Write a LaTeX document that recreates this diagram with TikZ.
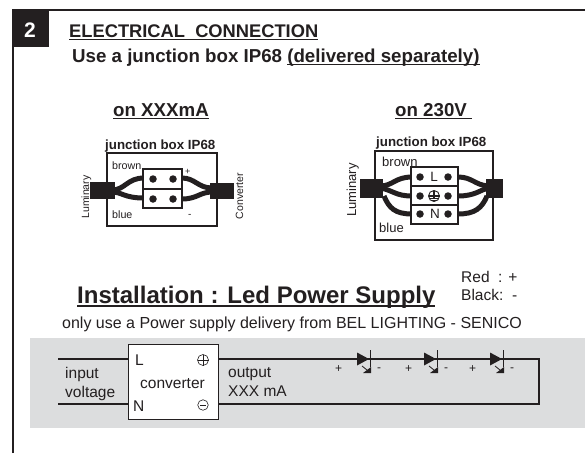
\documentclass[tikz,border=0pt]{standalone}
\usepackage{fontspec}
\setmainfont{Liberation Sans}
\usetikzlibrary{calc}
\newsavebox{\ulbox}
\newcommand{\ul}[1]{\leavevmode\sbox{\ulbox}{#1}\rlap{\usebox{\ulbox}}\rule[-0.17em]{\wd\ulbox}{0.08em}}
\definecolor{panel}{RGB}{220,221,222}
\definecolor{ink}{RGB}{35,31,32}
\tikzset{
 x=1pt,y=-1pt,
 lbl/.style={inner sep=0,anchor=base west,text=ink},
 cable/.style={ink,line width=5pt},
 wire/.style={ink,line width=1.6pt},
 box/.style={draw=ink,line width=1.3pt},
 tbox/.style={draw=ink,line width=1.2pt,fill=white},
 dot/.style={circle,fill=ink,inner sep=0,minimum size=7.5pt},
}
\newcommand{\fs}[1]{\fontsize{#1}{#1}\selectfont}
\newcommand{\ledat}[2]{%
 \fill[ink] (#1-13,#2-6.5) -- (#1-1,#2) -- (#1-13,#2+6.5) -- cycle;
 \draw[ink,line width=.8pt] (#1,#2-9) -- (#1,#2+8);
 \draw[ink,line width=.8pt] (#1-8,#2+7) -- (#1-3,#2+11);
 \fill[ink] (#1+1,#2+8) -- (#1+1,#2+14) -- (#1-7,#2+14) -- cycle;
}
\begin{document}
\begin{tikzpicture}
\useasboundingbox (0,0) rectangle (585,453);
\fill[white] (0,0) rectangle (585,453);
\draw[ink,line width=2.2pt] (13,453) -- (13,10) -- (585,10);
\fill[ink] (12,10) rectangle (49,47);
\node[lbl,text=white,font=\bfseries\fs{21}] (num) at (24,37) {2};
\node[lbl,font=\bfseries\fs{18.3}] (t1) at (69,37) {\ul{ELECTRICAL\ \ CONNECTION}};
\node[lbl,font=\bfseries\fs{18.7}] (t2) at (72,62) {Use a junction box IP68 \ul{(delivered separately)}};
\node[lbl,font=\bfseries\fs{18.7}] (a1) at (113,116) {\ul{on XXXmA}};
\node[lbl,font=\bfseries\fs{18.7}] (a2) at (395,116) {\ul{on 230V\ }};
% left box
\node[lbl,font=\bfseries\fs{13.3}] at (105,149) {junction box IP68};
\draw[box] (107,153) rectangle (217,226);
\draw[cable] (112,190) .. controls (125,190) and (127,178) .. (144,178);
\draw[cable] (112,192) .. controls (122,192) and (124,198) .. (144,198);
\draw[cable] (182,178) .. controls (195,178) and (198,188) .. (212,188);
\draw[cable] (182,199) .. controls (197,199) and (200,192) .. (212,192);
\fill[ink] (90,182) rectangle (115,199);
\fill[ink] (210,183) rectangle (234,199);
\draw[tbox] (143,169) rectangle (182,189);
\draw[tbox] (143,189) rectangle (182,208);
\node[dot] at (153,179) {}; \node[dot] at (173,179) {};
\node[dot] at (153,199) {}; \node[dot] at (173,199) {};
\node[lbl,font=\fs{10.7}] at (112,169) {brown};
\node[lbl,font=\fs{10.7}] at (112,218) {blue};
\node[lbl,font=\fs{9}] at (185,174) {+};
\node[lbl,font=\fs{10}] at (188,217) {-};
\node[lbl,font=\fs{10.5},rotate=90,anchor=base] at (89,197) {Luminary};
\node[lbl,font=\fs{10.5},rotate=90,anchor=base] at (243,196) {Converter};
% right box
\node[lbl,font=\bfseries\fs{13.3}] at (376,146) {junction box IP68};
\draw[box] (375,151) rectangle (493,240);
\draw[cable] (380,186) .. controls (393,186) and (395,177) .. (412,177);
\draw[cable] (380,188) .. controls (393,190) and (395,196) .. (412,196);
\draw[cable] (384,196) .. controls (389,208) and (395,214) .. (412,214);
\draw[cable] (458,177) .. controls (472,177) and (475,185) .. (488,186);
\draw[cable] (458,196) .. controls (475,196) and (480,190) .. (488,188);
\draw[cable] (458,214) .. controls (475,214) and (482,208) .. (487,196);
\fill[ink] (360,179) rectangle (383,198);
\fill[ink] (486,179) rectangle (503,198);
\draw[tbox] (411,167) rectangle (458,186);
\draw[tbox] (411,186) rectangle (458,205);
\draw[tbox] (411,205) rectangle (458,224);
\node[dot] at (420,177) {}; \node[dot] at (448,177) {};
\node[dot] at (420,196) {}; \node[dot] at (448,196) {};
\node[dot] at (420,214) {}; \node[dot] at (448,214) {};
\node[font=\fs{13.5},inner sep=0,text=ink] at (434,177) {L};
\node[font=\fs{13.5},inner sep=0,text=ink] at (435,214) {N};
\draw[ink,line width=.9pt] (434,196) circle (5.5pt);
\draw[ink,line width=1.1pt] (434,190.5) -- (434,199) (428.5,196) -- (439.5,196) (430,198.5) -- (438,198.5) (432,200.5) -- (436,200.5);
\node[lbl,font=\fs{13}] at (382,166) {brown};
\node[lbl,font=\fs{13}] at (379,232) {blue};
\node[lbl,font=\fs{13},rotate=90,anchor=base] at (356,190) {Luminary};
% heading
\node[lbl,font=\bfseries\fs{24}] at (77,303) {\ul{Installation : Led Power Supply}};
\node[lbl,font=\fs{15.5}] at (461,282) {Red\ \ : +};
\node[lbl,font=\fs{15.5}] at (461,300) {Black:\ \ -};
\node[lbl,font=\fs{16}] at (62,328) {only use a Power supply delivery from BEL LIGHTING - SENICO};
% panel
\fill[panel] (30,338) rectangle (585,428);
\coordinate (il) at (58,359);
\coordinate (nl) at (58,404);
\coordinate (tr) at (539,359);
\coordinate (br) at (539,404);
\node[draw=ink,fill=white,line width=.9pt,minimum width=90pt,minimum height=75pt,inner sep=0] (conv) at (173,381.5) {};
\draw[wire] (il) -- (conv.west |- il);
\draw[wire] (nl) -- (conv.west |- nl);
\draw[wire,line join=miter] (conv.east |- il) -- (tr) -- (br) -- (conv.east |- nl);
\ledat{370}{359}\ledat{437}{359}\ledat{503}{359}
\node[lbl,font=\fs{15.5}] at (65,378) {input};
\node[lbl,font=\fs{15.5}] at (65,397) {voltage};
\node[lbl,font=\fs{15.5}] at (228,377) {output};
\node[lbl,font=\fs{15.5}] at (228,396) {XXX mA};
\node[lbl,font=\fs{15.5}] at (140,388) {converter};
\node[lbl,font=\fs{15.5}] at (135,365) {L};
\node[lbl,font=\fs{15.5}] at (133,411) {N};
\node[draw=ink,circle,line width=.6pt,minimum size=11pt,inner sep=0] (pl) at (203,360) {};
\draw[ink,line width=.6pt] (197.5,360) -- (208.5,360) (203,354.5) -- (203,365.5);
\node[draw=ink,circle,line width=.6pt,minimum size=10.5pt,inner sep=0] (mi) at (203,405) {};
\draw[ink,line width=.6pt] (200,405) -- (206,405);
\foreach \x/\m in {335/377,405/444,469/510}{
 \node[lbl,font=\fs{12}] at (\x,372) {+};
 \node[lbl,font=\fs{12}] at (\m,371) {-};
}
\end{tikzpicture}
\end{document}
